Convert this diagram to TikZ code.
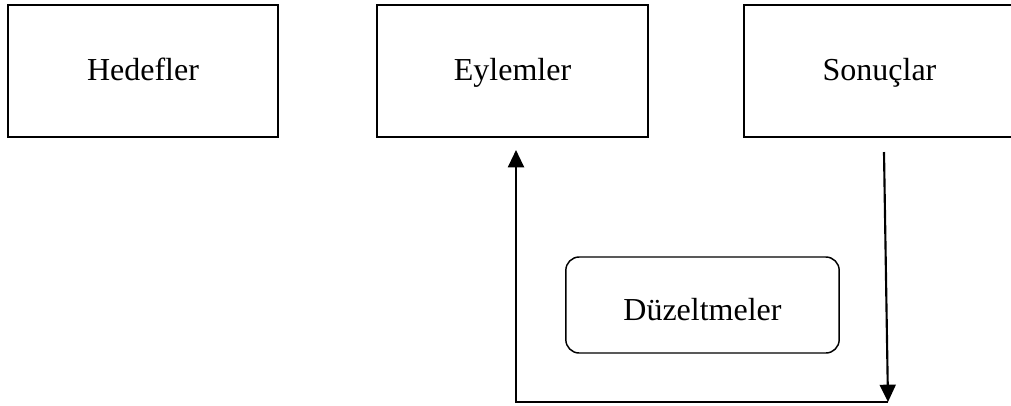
\documentclass[tikz,border=0pt]{standalone}
\usepackage{fontspec}
\setmainfont{Liberation Serif}
\usetikzlibrary{arrows.meta,positioning}

\begin{document}
\begin{tikzpicture}[x=0.75pt,y=-0.75pt,
        kutu/.style={draw,line width=1.6pt,minimum width=203pt,minimum height=99pt,
            inner sep=0pt,text height=17.5pt,text depth=4pt,
            font=\fontsize{24}{28}\selectfont},
        yuvarlak/.style={draw,line width=1.1pt,rounded corners=10pt,minimum width=205pt,
            minimum height=72pt,inner sep=0pt,text height=24pt,text depth=1.5pt,
            font=\fontsize{24}{28}\selectfont},
        ok/.style={line width=1.6pt,-{Triangle[length=13pt,width=12pt]}}]
    \clip (0,0) rectangle (1011,405);
    \node[kutu] (hedef) at (143,71) {Hedefler};
    \node[kutu] (eylem) at (512.5,71) {Eylemler};
    \node[kutu] (sonuc) at (879.5,71) {Sonuçlar};
    \node[yuvarlak] (duzelt) at (702.5,305) {Düzeltmeler};
    % geri besleme dongusu
    \coordinate (s1) at (884,152);
    \coordinate (s2) at (888,402);
    \coordinate (e2) at (516,402);
    \coordinate (e1) at (516,150);
    \draw[ok] (s1) -- (s2);
    \draw[ok] (s2) -- (e2) -- (e1);
\end{tikzpicture}
\end{document}
